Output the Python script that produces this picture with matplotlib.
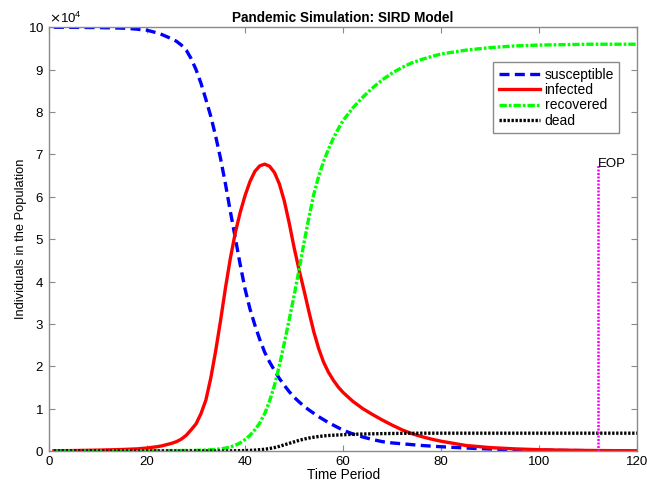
import numpy as np
import matplotlib
matplotlib.use("Agg")
import matplotlib.pyplot as plt

plt.rcParams['font.family'] = ['Liberation Sans', 'DejaVu Sans']

# time points (days)
t = [1, 5, 10,
     15, 16, 17, 18, 19, 20, 21, 22, 23, 24, 25, 26, 27, 28, 29, 30, 31, 32,
     33, 34, 35, 36, 37, 38, 39, 40, 41, 42, 43, 44, 45, 46, 47, 48, 49, 50,
     51, 52, 53, 54, 55, 56, 57, 58, 59, 60,
     62, 64, 66, 68, 70, 72, 74, 76, 78, 80,
     85, 90, 95, 100, 105, 110, 115, 120]

# compartment sizes in units of 10^4 individuals
susceptible = [10.0, 9.998, 9.993,
               9.98, 9.975, 9.965, 9.955, 9.94, 9.93, 9.9, 9.87, 9.83, 9.78,
               9.73, 9.67, 9.58, 9.46, 9.26, 9.0, 8.68, 8.3, 7.9, 7.43, 6.9,
               6.3, 5.65, 5.03, 4.4, 3.82, 3.35, 2.97, 2.63, 2.33, 2.1, 1.9,
               1.71, 1.55, 1.4, 1.27, 1.16, 1.06, 0.97, 0.89, 0.81, 0.74,
               0.67, 0.61, 0.55, 0.49,
               0.4, 0.33, 0.27, 0.22, 0.19, 0.17, 0.15, 0.13, 0.115, 0.1,
               0.07, 0.045, 0.03, 0.02, 0.012, 0.008, 0.005, 0.003]
infected = [0.005, 0.01, 0.02,
            0.035, 0.04, 0.045, 0.05, 0.06, 0.07, 0.085, 0.1, 0.12, 0.15,
            0.18, 0.22, 0.28, 0.37, 0.5, 0.64, 0.88, 1.2, 1.72, 2.36, 3.08,
            3.85, 4.55, 5.15, 5.63, 6.03, 6.36, 6.6, 6.73, 6.77, 6.72, 6.57,
            6.3, 5.9, 5.38, 4.8, 4.28, 3.8, 3.3, 2.82, 2.42, 2.1, 1.86, 1.67,
            1.51, 1.38,
            1.17, 1.0, 0.86, 0.73, 0.61, 0.5, 0.41, 0.34, 0.28, 0.23,
            0.13, 0.08, 0.05, 0.03, 0.02, 0.012, 0.008, 0.005]
recovered = [0.0, 0.0005, 0.001,
             0.002, 0.002, 0.003, 0.003, 0.004, 0.005, 0.005, 0.006, 0.007,
             0.008, 0.009, 0.01, 0.011, 0.012, 0.013, 0.015, 0.018, 0.022,
             0.028, 0.037, 0.05, 0.068, 0.095, 0.135, 0.19, 0.27, 0.37, 0.5,
             0.66, 0.88, 1.18, 1.55, 2.02, 2.55, 3.1, 3.67, 4.27, 4.9, 5.5,
             6.05, 6.48, 6.83, 7.12, 7.38, 7.6, 7.8,
             8.1, 8.35, 8.57, 8.76, 8.92, 9.05, 9.16, 9.24, 9.31, 9.37,
             9.46, 9.52, 9.56, 9.58, 9.59, 9.6, 9.6, 9.6]
dead = [0.0, 0.0, 0.0,
        0.0, 0.0, 0.0, 0.0, 0.0, 0.0, 0.0, 0.0, 0.0, 0.0, 0.0, 0.0, 0.0,
        0.0, 0.0, 0.0, 0.0, 0.0, 0.0, 0.0, 0.0, 0.002, 0.003, 0.005, 0.007,
        0.01, 0.014, 0.02, 0.03, 0.04, 0.058, 0.08, 0.11, 0.145, 0.18, 0.215,
        0.25, 0.28, 0.305, 0.325, 0.342, 0.355, 0.365, 0.372, 0.378, 0.383,
        0.395, 0.4, 0.405, 0.41, 0.413, 0.416, 0.418, 0.42, 0.42, 0.42,
        0.42, 0.42, 0.42, 0.42, 0.42, 0.42, 0.42, 0.42]
scale = 1e4
eop_day = 112

S = np.array(susceptible) * scale
I = np.array(infected) * scale
R = np.array(recovered) * scale
D = np.array(dead) * scale

fig = plt.figure(figsize=(6.47, 4.83), dpi=100)
ax = fig.add_axes([0.0757, 0.0663, 0.9093, 0.8772])

lw = 2.4
ax.plot(t, S, color='#0000ff', lw=lw, dashes=(3, 1.6), label='susceptible')
ax.plot(t, I, color='#ff0000', lw=lw, label='infected')
ax.plot(t, R, color='#00ff00', lw=lw, dashes=(2.2, 0.6, 0.8, 0.6), label='recovered')
ax.plot(t, D, color='black', lw=lw, dashes=(0.7, 0.5), label='dead')

# end of pandemic marker
ax.plot([eop_day, eop_day], [0, I.max()], color='#ff00ff', lw=1.8, dashes=(0.8, 0.6))
ax.text(eop_day, I.max(), 'EOP', ha='left', va='center', fontsize=9.5)

ax.set_xlim(0, 120)
ax.set_ylim(0, 10 * scale)
ax.set_xticks(range(0, 121, 20))
ax.set_yticks(np.arange(0, 11) * scale)
ax.ticklabel_format(axis='y', style='sci', scilimits=(4, 4), useMathText=True)
ax.yaxis.get_offset_text().set_fontsize(9.5)

grey = '#8a8a8a'
for sp in ax.spines.values():
    sp.set_color(grey)
    sp.set_linewidth(1.0)
ax.tick_params(direction='in', length=4, color=grey, labelsize=9.5,
               top=True, right=True, labelcolor='black')

ax.set_title('Pandemic Simulation: SIRD Model', fontsize=9.8, fontweight='bold', pad=4)
ax.set_xlabel('Time Period', fontsize=9.8, labelpad=0)
ax.set_ylabel('Individuals in the Population', fontsize=9.3, labelpad=1)

leg = ax.legend(loc='upper left', bbox_to_anchor=(0.755, 0.918), fontsize=10,
                fancybox=False, framealpha=1, edgecolor=grey, handlelength=3.0,
                handletextpad=0.3, borderpad=0.4, labelspacing=0.1,
                borderaxespad=0)
leg.get_frame().set_linewidth(1.0)

plt.savefig('out.png', dpi=100)
